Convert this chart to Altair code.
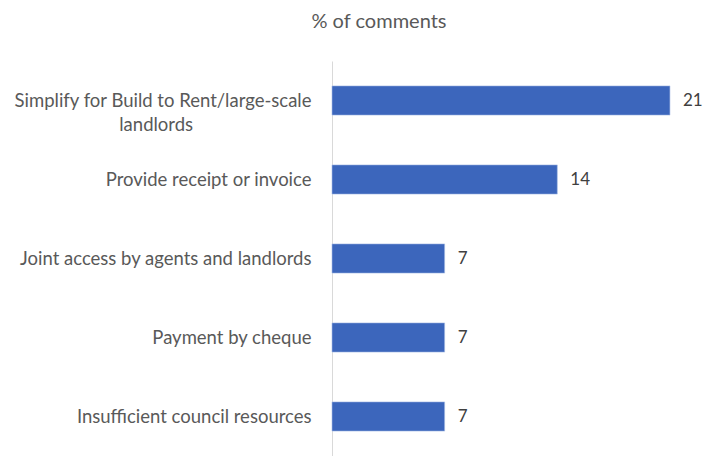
import altair as alt
import pandas as pd

categories = [
    "Simplify for Build to Rent/large-scale landlords",
    "Provide receipt or invoice",
    "Joint access by agents and landlords",
    "Payment by cheque",
    "Insufficient council resources",
]
values = [21, 14, 7, 7, 7]

df = pd.DataFrame({"category": categories, "value": values})

NB = "\u00a0" * 25 + "\u200b"
label_expr = (
    "datum.value == 'Simplify for Build to Rent/large-scale landlords' ? "
    "['Simplify for Build to Rent/large-scale', 'landlords" + NB + "'] : datum.value"
)

y_enc = alt.Y(
    "category:N",
    sort=categories,
    scale=alt.Scale(paddingInner=0.63, paddingOuter=0.315),
    axis=alt.Axis(
        title=None,
        ticks=False,
        domainColor="#d9d9d9",
        domainWidth=1,
        labelFont="Lato",
        labelFontSize=18.5,
        labelColor="#595959",
        labelPadding=21,
        labelLimit=400,
        labelLineHeight=24,
        labelExpr=label_expr,
    ),
)
x_enc = alt.X("value:Q", scale=alt.Scale(domain=[0, 21.5], nice=False), axis=None)

bars = alt.Chart(df).mark_bar(color="#3c66bc", stroke="#a9bde6", strokeWidth=0.6).encode(
    y=y_enc, x=x_enc
)
texts = alt.Chart(df).mark_text(
    align="left", baseline="middle", dx=13, font="Lato", fontSize=17, color="#404040"
).encode(y=alt.Y("category:N", sort=categories), x="value:Q", text="value:Q")

chart = (
    alt.layer(bars, texts)
    .properties(
        width=346,
        height=395,
        autosize=alt.AutoSizeParams(type="none"),
        padding={"left": 324, "top": 53, "right": 25, "bottom": 0},
        title=alt.TitleParams(
            "% of comments",
            anchor="middle",
            dx=-126,
            offset=29,
            font="Lato",
            fontSize=20,
            fontWeight="normal",
            color="#595959",
        ),
    )
    .configure_view(stroke=None)
)

chart.save("out.html", embed_options={"renderer": "svg", "actions": False})
